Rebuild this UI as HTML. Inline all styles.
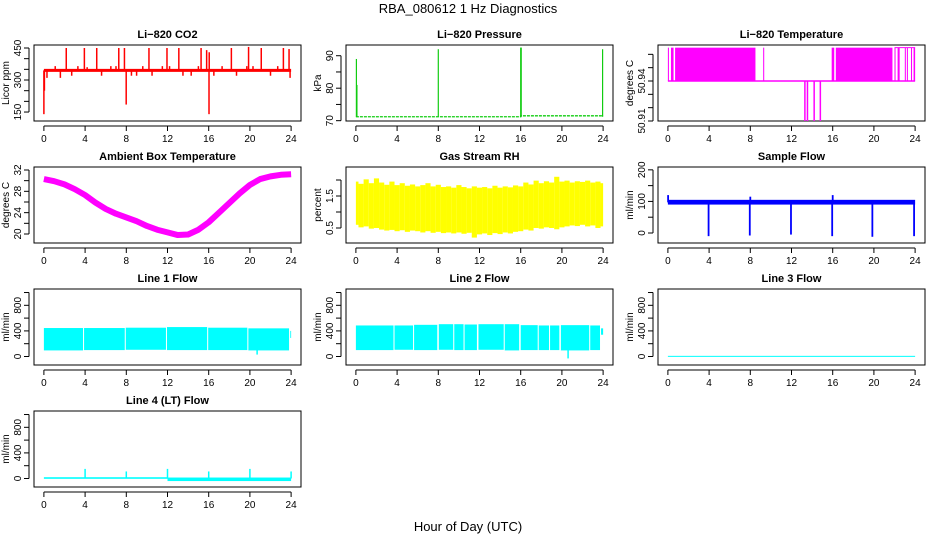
<!DOCTYPE html>
<html><head><meta charset="utf-8"><style>
body{margin:0;background:#fff}
svg{display:block;font-family:"Liberation Sans",Arial,sans-serif}
</style></head><body>
<svg id="chart" width="936" height="540" viewBox="0 0 936 540">
<text x="468" y="13" text-anchor="middle" font-size="13">RBA_080612  1 Hz Diagnostics</text>
<text x="468" y="531" text-anchor="middle" font-size="13">Hour of Day (UTC)</text>
</svg>
<script>
// ---- data ----
const xTicks=[0,4,8,12,16,20,24];
const co2BaseHours=[0,24];
const co2BaseValues=[345,345];
const co2SpikeHours=[0.0,0.05,2.17,3.93,5.13,7.27,7.82,7.99,10.2,11.95,13.1,15.26,15.8,16.03,16.05,18.2,19.87,21.1,23.25,23.8,0.3,1.1,1.6,2.7,3.3,4.2,5.6,6.5,7.0,8.5,9.0,9.6,10.5,11.5,12.2,13.5,14.3,15.0,16.5,17.3,18.7,19.7,20.3,22.0,22.7,23.9];
const co2SpikeValues=[140,250,450,450,450,450,450,185,450,450,450,450,440,140,430,450,455,450,450,445,310,365,310,320,365,360,320,365,365,320,320,365,320,365,365,320,320,365,320,365,320,365,365,320,365,310];
const presBaseHours=[0,16,16,24];
const presBaseValues=[71.2,71.2,71.5,71.5];
const presSpikeHours=[0.05,0.1,8,16,16.05,23.95];
const presSpikeValues=[89,81,92,92.5,92.5,92];
const tempHighStart=[0,0.3,0.7,9.25,15.9,16.3,22.0,22.3,23.0,23.2,23.6,23.85];
const tempHighEnd=[0.1,0.55,8.5,9.35,16.15,21.8,22.1,22.5,23.1,23.3,23.7,24];
const tempHighValue=[50.965];
const tempBaseValue=[50.94];
const tempDipHours=[13.3,13.55,14.2,14.8];
const tempDipValues=[50.91,50.91,50.91,50.91];
const ambHours=[0,1,2,3,4,5,6,7,8,9,10,11,12,13,14,15,16,17,18,19,20,21,22,23,24];
const ambValues=[30.3,29.9,29.3,28.4,27.3,25.9,24.7,23.8,23.1,22.4,21.5,20.8,20.3,19.8,19.9,20.8,22.2,24,25.8,27.6,29.2,30.3,30.8,31.1,31.2];
const rhHi=[1.95,1.88,2.02,1.9,2.05,1.92,1.85,1.95,1.84,1.9,1.82,1.86,1.8,1.84,1.9,1.8,1.85,1.78,1.8,1.76,1.84,1.78,1.74,1.8,1.76,1.78,1.74,1.82,1.76,1.8,1.77,1.83,1.8,1.92,1.86,1.98,1.9,1.96,1.92,2.1,1.95,1.98,1.92,1.96,1.94,1.98,1.92,1.95,1.9];
const rhLo=[0.6,0.52,0.55,0.48,0.5,0.45,0.42,0.44,0.4,0.43,0.38,0.42,0.4,0.36,0.4,0.35,0.38,0.34,0.36,0.33,0.36,0.32,0.35,0.2,0.3,0.33,0.28,0.34,0.31,0.36,0.33,0.38,0.4,0.45,0.42,0.5,0.48,0.52,0.5,0.46,0.52,0.55,0.58,0.56,0.6,0.55,0.58,0.5,0.55];
const sfBandStart=[0],sfBandEnd=[24],sfBandHi=[105],sfBandLo=[90];
const sfSpikeHours=[3.95,7.95,11.95,15.95,19.85,23.9,0.02,16,8];
const sfSpikeValues=[-10,-8,-5,-10,-12,-10,120,120,115];
const l1Start=[0,3.9,7.95,11.95,15.95,19.85,23.92];
const l1End=[3.8,7.85,11.85,15.85,19.75,23.8,24];
const l1Hi=[445,445,450,460,450,440,400];
const l1Lo=[95,100,105,100,100,95,290];
const l1SpikeHours=[20.7],l1SpikeValues=[30];
const l2Start=[0,3.75,5.65,8.05,9.55,10.55,11.9,14.45,16.0,17.75,18.85,19.9,22.75,23.8];
const l2End=[3.65,5.55,7.9,9.45,10.45,11.75,14.35,15.85,17.65,18.75,19.75,22.65,23.7,24];
const l2Hi=[485,485,495,505,505,500,505,505,490,485,485,490,485,440];
const l2Lo=[100,105,100,105,100,100,105,95,100,100,100,95,100,340];
const l2SpikeHours=[20.6],l2SpikeValues=[-30];
const l3Start=[0],l3End=[24],l3Hi=[10],l3Lo=[-5];
const l4Start=[0,12],l4End=[12,24],l4Hi=[20,15],l4Lo=[-5,-40];
const l4SpikeHours=[4,8,12,16,20,24],l4SpikeValues=[150,110,150,110,150,110];

// ---- layout ----
const NS="http://www.w3.org/2000/svg";
const svg=document.getElementById('chart');
const colL=[34,346,658],rowT=[45,167,289,411],PW=267,PH=76;
function el(tag,attrs,parent){const e=document.createElementNS(NS,tag);for(const k in attrs)e.setAttribute(k,attrs[k]);(parent||svg).appendChild(e);return e;}
function panel(c,r,title,ylab,ylim,yticks,ylabels,name){
  const L=colL[c],T=rowT[r];
  const g=el('g',{});
  
  
  const P={L,T,g,
    x:v=>L+(v+0.96)*PW/25.92,
    y:v=>T+PH-(v-ylim[0])*PH/(ylim[1]-ylim[0])};
  const t=el('text',{x:L+PW/2,y:T-7,'text-anchor':'middle','font-size':11,'font-weight':'bold'},g);t.textContent=title;
  
  
  const box=el('rect',{x:L,y:T,width:PW,height:PH,fill:'none',stroke:'#000'},g);
  
  
  const xa=el('g',{stroke:'#000'},g);
  
  
  el('line',{x1:P.x(xTicks[0]),x2:P.x(xTicks[xTicks.length-1]),y1:T+PH+5,y2:T+PH+5},xa);
  xTicks.forEach(v=>{el('line',{x1:P.x(v),x2:P.x(v),y1:T+PH+5,y2:T+PH+10},xa);
    const tx=el('text',{x:P.x(v),y:T+PH+21,'text-anchor':'middle','font-size':10,stroke:'none'},xa);tx.textContent=v;});
  const ya=el('g',{stroke:'#000'},g);
  
  
  el('line',{x1:L-5,x2:L-5,y1:P.y(yticks[0]),y2:P.y(yticks[yticks.length-1])},ya);
  yticks.forEach(v=>el('line',{x1:L-10,x2:L-5,y1:P.y(v),y2:P.y(v)},ya));
  ylabels.forEach(v=>{const yy=P.y(v);const tx=el('text',{x:L-13,y:yy,'text-anchor':'middle','font-size':10,stroke:'none',transform:`rotate(-90 ${L-13} ${yy})`},ya);tx.textContent=v;});
  const yl=el('text',{x:L-25,y:T+PH/2,'text-anchor':'middle','font-size':10,transform:`rotate(-90 ${L-25} ${T+PH/2})`},g);yl.textContent=ylab;
  
  
  P.data=el('g',{},g);
  
  
  return P;
}
function band(P,s,e,hi,lo,col){s.forEach((v,i)=>{el('rect',{x:P.x(v),y:P.y(hi[i]),width:Math.max(0.8,P.x(e[i])-P.x(v)),height:Math.max(1,P.y(lo[i])-P.y(hi[i])),fill:col},P.data);});}
function spikes(P,h,v,base,col,w){h.forEach((t,i)=>{el('line',{x1:P.x(t),x2:P.x(t),y1:P.y(base),y2:P.y(v[i]),stroke:col,'stroke-width':w||1.3},P.data);});}

// CO2
let P=panel(0,0,'Li\u2212820 CO2','Licor ppm',[108,464],[150,200,250,300,350,400,450],[150,300,450],'co2');
spikes(P,co2SpikeHours,co2SpikeValues,co2BaseValues[0],'#f00',1.5);
el('polyline',{points:co2BaseHours.map((h,i)=>P.x(h)+','+P.y(co2BaseValues[i])).join(' '),stroke:'#f00','stroke-width':3,fill:'none'},P.data);
// Pressure
P=panel(1,0,'Li\u2212820 Pressure','kPa',[69.9,93.3],[70,75,80,85,90],[70,80,90],'pressure');
el('polyline',{points:presBaseHours.map((h,i)=>P.x(h)+','+P.y(presBaseValues[i])).join(' '),stroke:'#1c1',fill:'none','stroke-width':1.3,'stroke-dasharray':'3 1'},P.data);
spikes(P,presSpikeHours,presSpikeValues,71.2,'#1c1',1.2);
// Li-820 Temperature
P=panel(2,0,'Li\u2212820 Temperature','degrees C',[50.91,50.967],[50.91,50.92,50.93,50.94,50.95,50.96],[50.91,50.94],'li820-temp');
el('line',{x1:P.x(0),x2:P.x(24),y1:P.y(tempBaseValue[0]),y2:P.y(tempBaseValue[0]),stroke:'#f0f','stroke-width':1.5},P.data);
el('line',{x1:P.x(22),x2:P.x(24),y1:P.y(tempHighValue[0]),y2:P.y(tempHighValue[0]),stroke:'#f0f','stroke-width':1},P.data);
band(P,tempHighStart,tempHighEnd,tempHighStart.map(()=>tempHighValue[0]),tempHighStart.map(()=>tempBaseValue[0]),'#f0f');
spikes(P,tempDipHours,tempDipValues,tempBaseValue[0],'#f0f',1.5);
// Ambient
P=panel(0,1,'Ambient Box Temperature','degrees C',[18.31,32.56],[20,22,24,26,28,30,32],[20,24,28,32],'ambient-temp');
el('polyline',{points:ambHours.map((h,i)=>P.x(h)+','+P.y(ambValues[i])).join(' '),stroke:'#f0f','stroke-width':6,fill:'none','stroke-linejoin':'round'},P.data);
// RH
P=panel(1,1,'Gas Stream RH','percent',[0.031,2.406],[0.5,1,1.5,2],[0.5,1.5],'gas-rh');
rhHi.forEach((v,i)=>{const h0=i*0.5-0.25,h1=i*0.5+0.25;const a=Math.max(0,h0),b=Math.min(24,h1);
  el('rect',{x:P.x(a),y:P.y(v),width:P.x(b)-P.x(a),height:P.y(rhLo[i])-P.y(v),fill:'#ff0'},P.data);});
// Sample flow
P=panel(2,1,'Sample Flow','ml/min',[-31.7,209],[0,50,100,150,200],[0,100,200],'sample-flow');
band(P,sfBandStart,sfBandEnd,sfBandHi,sfBandLo,'#00f');
spikes(P,sfSpikeHours,sfSpikeValues,97,'#00f',1.8);
// Line flows
const FL=[-133,1055],FT=[0,200,400,600,800,1000],FLB=[0,400,800];
P=panel(0,2,'Line 1 Flow','ml/min',FL,FT,FLB,'line1-flow');
band(P,l1Start,l1End,l1Hi,l1Lo,'#0ff');spikes(P,l1SpikeHours,l1SpikeValues,100,'#0ff',1.5);
P=panel(1,2,'Line 2 Flow','ml/min',FL,FT,FLB,'line2-flow');
band(P,l2Start,l2End,l2Hi,l2Lo,'#0ff');spikes(P,l2SpikeHours,l2SpikeValues,100,'#0ff',1.5);
P=panel(2,2,'Line 3 Flow','ml/min',FL,FT,FLB,'line3-flow');
band(P,l3Start,l3End,l3Hi,l3Lo,'#0ff');
P=panel(0,3,'Line 4 (LT) Flow','ml/min',FL,FT,FLB,'line4-flow');
band(P,l4Start,l4End,l4Hi,l4Lo,'#0ff');spikes(P,l4SpikeHours,l4SpikeValues,0,'#0ff',1.5);
</script>
</body></html>
